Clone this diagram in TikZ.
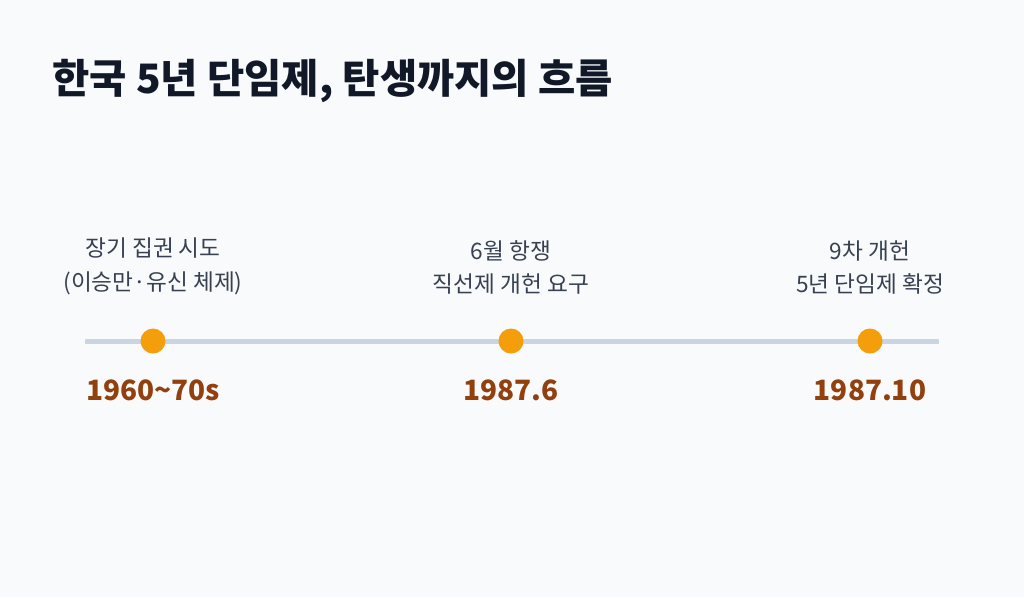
\documentclass[tikz,border=0pt]{standalone}
\usepackage{fontspec}
\setmainfont{Noto Sans CJK KR}
\definecolor{bgc}{HTML}{F8FAFC}
\definecolor{titlec}{HTML}{111827}
\definecolor{labelc}{HTML}{374151}
\definecolor{linec}{HTML}{CBD5E1}
\definecolor{dotc}{HTML}{F59E0B}
\definecolor{yearc}{HTML}{92400E}
\begin{document}
\begin{tikzpicture}[x=0.75pt,y=-0.75pt,
  titletext/.style={anchor=base west,inner sep=0,text=titlec,font=\fontsize{30.4}{34}\selectfont\bfseries},
  evtext/.style={align=center,inner sep=0,text=labelc,font=\fontsize{17}{25.2}\selectfont},
  yeartext/.style={anchor=base,inner sep=0,text=yearc,font=\fontsize{21}{25}\selectfont\bfseries},
  dot/.style={circle,fill=dotc,minimum size=18.75pt,inner sep=0}]
\fill[bgc] (0,0) rectangle (1024,597);
\useasboundingbox (0,0) rectangle (1024,597);
\node[titletext] (title) at (52,93) {한국 5년 단임제, 탄생까지의 흐름};
\coordinate (ls) at (85,341);
\coordinate (le) at (939,341);
\draw[linec,line width=3.75pt] (ls) -- (le);
\node[dot] (d1) at (153,341) {};
\node[dot] (d2) at (511,341) {};
\node[dot] (d3) at (870,341) {};
\node[evtext,anchor=south] (e1) at (153,295) {장기 집권 시도\\(이승만·유신 체제)};
\node[evtext,anchor=south] (e2) at (511,295) {6월 항쟁\\직선제 개헌 요구};
\node[evtext,anchor=south] (e3) at (870,295) {9차 개헌\\5년 단임제 확정};
\node[yeartext] (y1) at (153,400) {1960\textasciitilde70s};
\node[yeartext] (y2) at (511,400) {1987.6};
\node[yeartext] (y3) at (870,400) {1987.10};
\end{tikzpicture}
\end{document}
